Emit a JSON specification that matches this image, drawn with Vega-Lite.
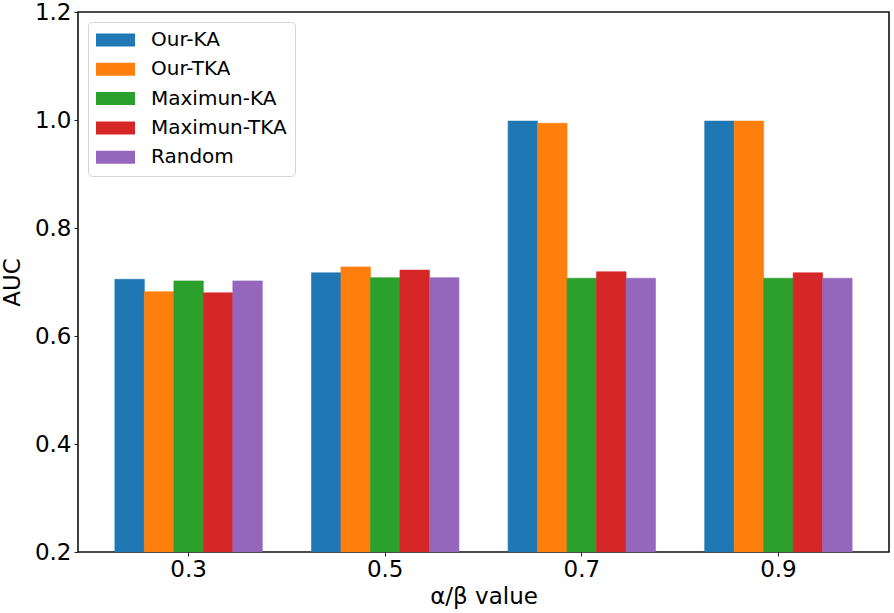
{
  "$schema": "https://vega.github.io/schema/vega-lite/v6.json",
  "width": 811,
  "height": 540,
  "autosize": "none",
  "padding": {"left": 78, "top": 12, "right": 5, "bottom": 61},
  "background": "white",
  "config": {
    "font": "DejaVu Sans",
    "view": {"stroke": "#111", "strokeWidth": 1.6},
    "axis": {"grid": false, "domain": false, "labelColor": "#000", "titleColor": "#000", "tickColor": "#222", "labelFont": "DejaVu Sans", "titleFont": "DejaVu Sans", "titleFontWeight": "normal"}
  },
  "data": {
    "values": [
      {"alpha": "0.3", "method": "Our-KA", "auc": 0.705},
      {"alpha": "0.3", "method": "Our-TKA", "auc": 0.682},
      {"alpha": "0.3", "method": "Maximun-KA", "auc": 0.702},
      {"alpha": "0.3", "method": "Maximun-TKA", "auc": 0.680},
      {"alpha": "0.3", "method": "Random", "auc": 0.702},
      {"alpha": "0.5", "method": "Our-KA", "auc": 0.717},
      {"alpha": "0.5", "method": "Our-TKA", "auc": 0.728},
      {"alpha": "0.5", "method": "Maximun-KA", "auc": 0.708},
      {"alpha": "0.5", "method": "Maximun-TKA", "auc": 0.722},
      {"alpha": "0.5", "method": "Random", "auc": 0.708},
      {"alpha": "0.7", "method": "Our-KA", "auc": 0.998},
      {"alpha": "0.7", "method": "Our-TKA", "auc": 0.994},
      {"alpha": "0.7", "method": "Maximun-KA", "auc": 0.707},
      {"alpha": "0.7", "method": "Maximun-TKA", "auc": 0.719},
      {"alpha": "0.7", "method": "Random", "auc": 0.707},
      {"alpha": "0.9", "method": "Our-KA", "auc": 0.998},
      {"alpha": "0.9", "method": "Our-TKA", "auc": 0.998},
      {"alpha": "0.9", "method": "Maximun-KA", "auc": 0.707},
      {"alpha": "0.9", "method": "Maximun-TKA", "auc": 0.717},
      {"alpha": "0.9", "method": "Random", "auc": 0.707}
    ]
  },
  "mark": {"type": "bar", "clip": true, "strokeWidth": 0.6},
  "encoding": {
    "x": {
      "field": "alpha",
      "type": "nominal",
      "sort": ["0.3", "0.5", "0.7", "0.9"],
      "scale": {"paddingInner": 0.25, "paddingOuter": 0.1875},
      "axis": {"title": "α/β value", "labelAngle": 0, "labelFontSize": 23, "titleFontSize": 23, "tickSize": 4, "labelPadding": 2, "titleY": 51, "titleBaseline": "alphabetic"}
    },
    "xOffset": {
      "field": "method",
      "type": "nominal",
      "sort": ["Our-KA", "Our-TKA", "Maximun-KA", "Maximun-TKA", "Random"],
      "scale": {"paddingInner": 0, "paddingOuter": 0}
    },
    "y": {
      "field": "auc",
      "type": "quantitative",
      "scale": {"domain": [0.2, 1.2], "nice": false, "zero": false},
      "axis": {"title": "AUC", "values": [0.2, 0.4, 0.6, 0.8, 1.0, 1.2], "format": ".1f", "labelFontSize": 23, "titleFontSize": 23, "tickSize": 4, "labelPadding": 3, "titleX": -54, "titleY": 270, "titleBaseline": "bottom", "titleAngle": -90, "titleAlign": "center"}
    },
    "color": {
      "field": "method",
      "type": "nominal",
      "sort": ["Our-KA", "Our-TKA", "Maximun-KA", "Maximun-TKA", "Random"],
      "scale": {"domain": ["Our-KA", "Our-TKA", "Maximun-KA", "Maximun-TKA", "Random"], "range": ["#1f77b4", "#ff7f0e", "#2ca02c", "#d62728", "#9467bd"]},
      "legend": {
        "title": null,
        "orient": "none",
        "legendX": 10,
        "legendY": 10,
        "symbolType": "M-1,-0.333L1,-0.333L1,0.333L-1,0.333Z",
        "symbolSize": 1521,
        "symbolStrokeWidth": 0,
        "symbolOpacity": 1,
        "labelFontSize": 20,
        "labelFont": "DejaVu Sans",
        "labelColor": "#000",
        "labelOffset": 16,
        "clipHeight": 20,
        "rowPadding": 9.3,
        "padding": 8,
        "strokeColor": "#d6d6d6",
        "fillColor": "white",
        "cornerRadius": 4
      }
    },
    "stroke": {
      "field": "method",
      "type": "nominal",
      "sort": ["Our-KA", "Our-TKA", "Maximun-KA", "Maximun-TKA", "Random"],
      "scale": {"domain": ["Our-KA", "Our-TKA", "Maximun-KA", "Maximun-TKA", "Random"], "range": ["#1f77b4", "#ff7f0e", "#2ca02c", "#d62728", "#9467bd"]},
      "legend": null
    }
  }
}
